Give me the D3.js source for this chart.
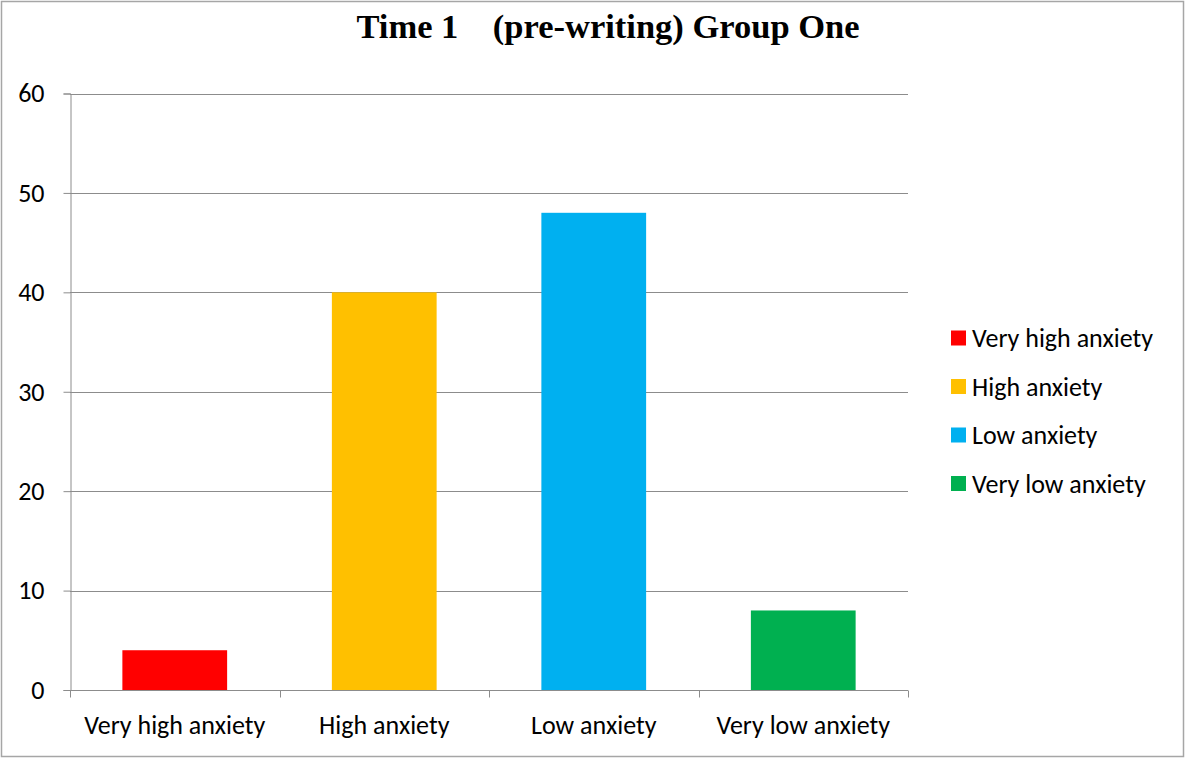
<!DOCTYPE html>
<html>
<head>
<meta charset="utf-8">
<script src="https://cdn.jsdelivr.net/npm/d3@7"></script>
<style>
  html, body { margin: 0; padding: 0; background: #fff; }
  svg { display: block; }
</style>
</head>
<body>
<svg id="chart" width="1185" height="758"></svg>
<script>
// Anxiety levels at Time 1 (pre-writing), Group One
const categories = ["Very high anxiety", "High anxiety", "Low anxiety", "Very low anxiety"];
const values = [4, 40, 48, 8];
const colors = ["#ff0000", "#ffc000", "#00b0f0", "#00b050"];
const yTicks = [0, 10, 20, 30, 40, 50, 60];
const title = "Time 1    (pre-writing) Group One";

const svg = d3.select("#chart");
const W = 1185, H = 758;
const labelFont = "Carlito, Lato, 'Open Sans', sans-serif";
const labelSize = 26;

// outer frame
svg.append("rect")
  .attr("x", 1.5).attr("y", 1.5)
  .attr("width", W - 3).attr("height", H - 3)
  .attr("fill", "#fff").attr("stroke", "#a6a6a6").attr("stroke-width", 1.5);

const plot = { left: 70, right: 908, top: 93.5, bottom: 690 };

const x = d3.scaleBand()
  .domain(categories)
  .range([plot.left, plot.right])
  .paddingInner(0.5).paddingOuter(0.25);

const y = d3.scaleLinear()
  .domain([0, 60])
  .range([plot.bottom, plot.top]);

// gridlines
svg.append("g")
  .selectAll("line")
  .data(yTicks.filter(d => d > 0))
  .join("line")
  .attr("x1", plot.left).attr("x2", plot.right)
  .attr("y1", d => Math.round(y(d)) + 0.5).attr("y2", d => Math.round(y(d)) + 0.5)
  .attr("stroke", "#8c8c8c").attr("stroke-width", 1);

// bars
svg.append("g")
  .selectAll("rect")
  .data(values)
  .join("rect")
  .attr("x", (d, i) => x(categories[i]))
  .attr("y", d => y(d))
  .attr("width", x.bandwidth())
  .attr("height", d => y(0) - y(d))
  .attr("fill", (d, i) => colors[i]);

// y axis
const yAxis = svg.append("g")
  .attr("transform", `translate(${plot.left + 0.5},0)`)
  .call(d3.axisLeft(y).tickValues(yTicks).tickSize(7).tickPadding(19));
yAxis.select(".domain").attr("stroke", "#8c8c8c");
yAxis.selectAll(".tick line").attr("stroke", "#8c8c8c");
yAxis.selectAll(".tick text")
  .attr("font-family", labelFont).attr("font-size", labelSize).attr("fill", "#000");

// x axis with boundary ticks between categories
const xAxisG = svg.append("g")
  .attr("transform", `translate(0,${Math.round(y(0)) + 0.5})`);
xAxisG.append("line")
  .attr("x1", plot.left).attr("x2", plot.right)
  .attr("stroke", "#8c8c8c");
const step = x.step();
const bounds = d3.range(categories.length + 1).map(i => plot.left + i * step);
xAxisG.selectAll("line.bound")
  .data(bounds)
  .join("line")
  .attr("class", "bound")
  .attr("x1", d => Math.round(d) + 0.5).attr("x2", d => Math.round(d) + 0.5)
  .attr("y1", 0).attr("y2", 7)
  .attr("stroke", "#8c8c8c");
xAxisG.selectAll("text")
  .data(categories)
  .join("text")
  .attr("x", d => x(d) + x.bandwidth() / 2)
  .attr("y", 43)
  .attr("text-anchor", "middle")
  .attr("font-family", labelFont).attr("font-size", labelSize).attr("fill", "#000")
  .text(d => d);

// title
svg.append("text")
  .attr("x", 608).attr("y", 38)
  .attr("text-anchor", "middle")
  .attr("font-family", "'Liberation Serif', 'Times New Roman', serif")
  .attr("font-weight", "bold").attr("font-size", 34.5)
  .style("white-space", "pre")
  .text(title);

// legend
const legend = svg.append("g");
const legY0 = 338, legStep = 48.5;
categories.forEach((c, i) => {
  const g = legend.append("g").attr("transform", `translate(951,${legY0 + i * legStep})`);
  g.append("rect").attr("x", 0).attr("y", -7.5).attr("width", 15).attr("height", 15).attr("fill", colors[i]);
  g.append("text").attr("x", 21).attr("y", 0).attr("dy", "0.35em")
    .attr("font-family", labelFont).attr("font-size", labelSize).attr("fill", "#000")
    .text(c);
});
</script>
</body>
</html>
